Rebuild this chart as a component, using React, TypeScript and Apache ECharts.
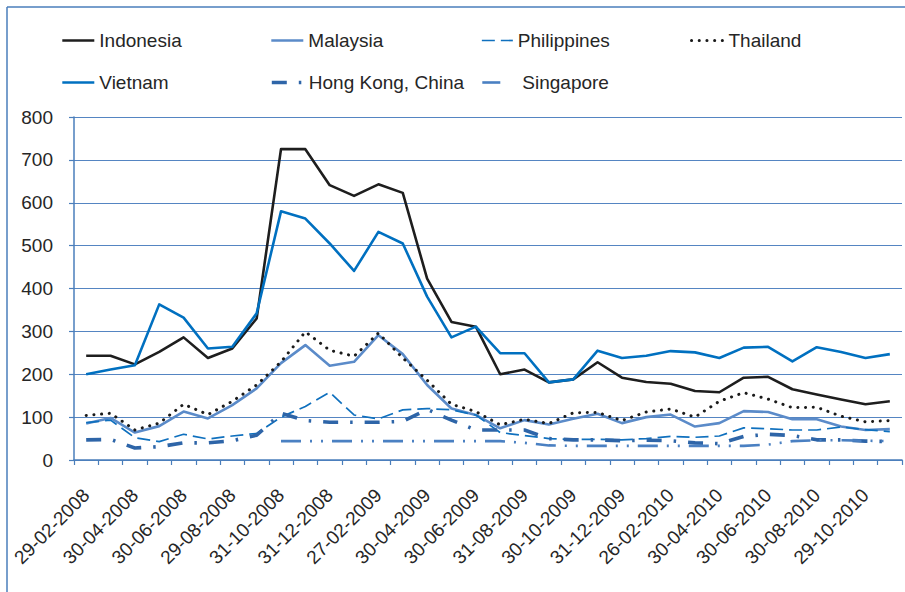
import React, { useEffect, useRef } from "react";
import * as echarts from "echarts";

const categories = [
  "29-02-2008", "31-03-2008", "30-04-2008", "30-05-2008", "30-06-2008", "31-07-2008",
  "29-08-2008", "30-09-2008", "31-10-2008", "28-11-2008", "31-12-2008", "30-01-2009",
  "27-02-2009", "31-03-2009", "30-04-2009", "29-05-2009", "30-06-2009", "31-07-2009",
  "31-08-2009", "30-09-2009", "30-10-2009", "30-11-2009", "31-12-2009", "29-01-2010",
  "26-02-2010", "31-03-2010", "30-04-2010", "31-05-2010", "30-06-2010", "30-07-2010",
  "30-08-2010", "30-09-2010", "29-10-2010", "30-11-2010",
];

const indonesia = [243, 243, 223, 252, 286, 238, 260, 330, 725, 725, 641, 616, 643, 623, 423, 322, 311, 200, 211, 181, 188, 228, 192, 182, 178, 161, 158, 192, 194, 165, 153, 141, 130, 137];
const malaysia = [85, 98, 64, 79, 113, 97, 128, 167, 226, 268, 220, 229, 291, 247, 175, 120, 105, 74, 93, 83, 96, 108, 86, 100, 106, 78, 86, 114, 112, 95, 95, 78, 70, 72];
const philippines = [87, 93, 52, 43, 60, 49, 56, 62, 100, 125, 158, 105, 96, 117, 120, 117, 105, 64, 57, 50, 48, 48, 47, 50, 55, 53, 56, 75, 73, 70, 70, 77, 71, 66];
const thailand = [104, 109, 70, 86, 130, 106, 137, 175, 229, 299, 256, 242, 296, 238, 186, 130, 113, 82, 95, 85, 110, 111, 92, 112, 119, 100, 137, 157, 142, 122, 123, 102, 89, 92];
const vietnam = [200, 211, 221, 363, 332, 260, 264, 342, 580, 563, 505, 441, 532, 505, 381, 286, 311, 249, 249, 181, 188, 255, 238, 243, 254, 251, 238, 262, 264, 230, 263, 252, 238, 247];
const hongKong = [47, 48, 28, 31, 40, 40, 45, 58, 109, 92, 88, 88, 88, 90, 118, 93, 70, 70, 70, 50, 47, 47, 45, 46, 45, 40, 38, 55, 60, 57, 47, 47, 44, 43];
const singapore = [null, null, null, null, null, null, null, null, 44, 44, 44, 44, 44, 44, 44, 44, 44, 44, 40, 34, 33, 33, 33, 33, 33, 33, 33, 33, 36, 44, 46, 46, 45, 44];

const yTicks = [0, 800, 100];

const FONT = "'Liberation Sans', Arial, sans-serif";
const AXIS_BLUE = "#4A7EBB";

type Style = { color: string; width: number; type: any; cap: any };

const styles: Record<string, Style> = {
  "Indonesia": { color: "#1E1E1E", width: 2.6, type: "solid", cap: "butt" },
  "Malaysia": { color: "#5B8BC9", width: 2.6, type: "solid", cap: "butt" },
  "Philippines": { color: "#0F70BE", width: 1.7, type: [13, 6], cap: "butt" },
  "Thailand": { color: "#1A1A1A", width: 3, type: [0.1, 7.6], cap: "round" },
  "Vietnam": { color: "#0070C0", width: 2.6, type: "solid", cap: "butt" },
  "Hong Kong, China": { color: "#2E65A8", width: 3.6, type: [15, 12, 2.5, 12], cap: "butt" },
  "Singapore": { color: "#4A80C2", width: 2.6, type: [20, 9, 2, 9, 2, 9], cap: "butt" },
};

export default function App() {
  const ref = useRef<HTMLDivElement>(null);

  useEffect(() => {
    document.body.style.margin = "0";
    const chart = echarts.init(ref.current!, null, { renderer: "svg" });

    const mk = (name: string, data: (number | null)[]) => {
      const s = styles[name];
      return {
        name,
        type: "line",
        data,
        symbol: "none",
        connectNulls: false,
        lineStyle: { color: s.color, width: s.width, type: s.type, cap: s.cap, join: "round" },
        itemStyle: { color: s.color },
        emphasis: { disabled: true },
      };
    };

    const series = [
      mk("Indonesia", indonesia),
      mk("Malaysia", malaysia),
      mk("Philippines", philippines),
      mk("Thailand", thailand),
      mk("Vietnam", vietnam),
      mk("Hong Kong, China", hongKong),
      mk("Singapore", singapore),
    ];

    const legendPos: [string, number, number, number, number][] = [
      ["Indonesia", 61, 31, 32, 0],
      ["Malaysia", 270, 31, 32, 0],
      ["Philippines", 481, 31, 31, 0],
      ["Thailand", 690, 31, 32, 0],
      ["Vietnam", 61, 73, 32, 0],
      ["Hong Kong, China", 270, 73, 32, 0],
      ["Singapore", 481, 73, 18, 17],
    ];

    const legends = legendPos.map(([name, left, top, w, pad]) => {
      const s = styles[name];
      return {
        data: [name],
        left,
        top,
        padding: 0,
        itemWidth: w,
        itemHeight: 14,
        itemGap: 0,
        selectedMode: false,
        itemStyle: { opacity: 0 },
        lineStyle: { color: s.color, width: s.width, type: s.type, cap: s.cap },
        textStyle: { fontSize: 19, fontFamily: FONT, color: "#262626", padding: [0, 0, 0, pad] },
      };
    });

    chart.setOption({
      animation: false,
      backgroundColor: "#ffffff",
      legend: legends,
      grid: { left: 74, right: 3, top: 117, bottom: 132, containLabel: false },
      xAxis: {
        type: "category",
        data: categories,
        boundaryGap: true,
        axisLine: { lineStyle: { color: AXIS_BLUE, width: 1.5 } },
        axisTick: { show: true, interval: 0, length: 5, lineStyle: { color: AXIS_BLUE, width: 1.2 } },
        axisLabel: {
          interval: 1,
          rotate: 45,
          fontSize: 19,
          fontFamily: FONT,
          color: "#262626",
          margin: 32,
        },
        splitLine: { show: false },
      },
      yAxis: {
        type: "value",
        min: yTicks[0],
        max: yTicks[1],
        interval: yTicks[2],
        axisLine: { show: true, lineStyle: { color: AXIS_BLUE, width: 1.5 } },
        axisTick: { show: true, length: 5, lineStyle: { color: AXIS_BLUE, width: 1.2 } },
        axisLabel: { fontSize: 19, fontFamily: FONT, color: "#262626", margin: 21 },
        splitLine: { show: true, lineStyle: { color: "#5585C2", width: 1 } },
      },
      graphic: [
        {
          type: "line",
          silent: true,
          shape: { x1: 7, y1: 7, x2: 905, y2: 7 },
          style: { stroke: AXIS_BLUE, lineWidth: 1.5 },
        },
        {
          type: "line",
          silent: true,
          shape: { x1: 7, y1: 7, x2: 7, y2: 592 },
          style: { stroke: AXIS_BLUE, lineWidth: 1.5 },
        },
      ],
      series,
    });

    return () => chart.dispose();
  }, []);

  return <div ref={ref} style={{ width: 905, height: 592 }} />;
}
